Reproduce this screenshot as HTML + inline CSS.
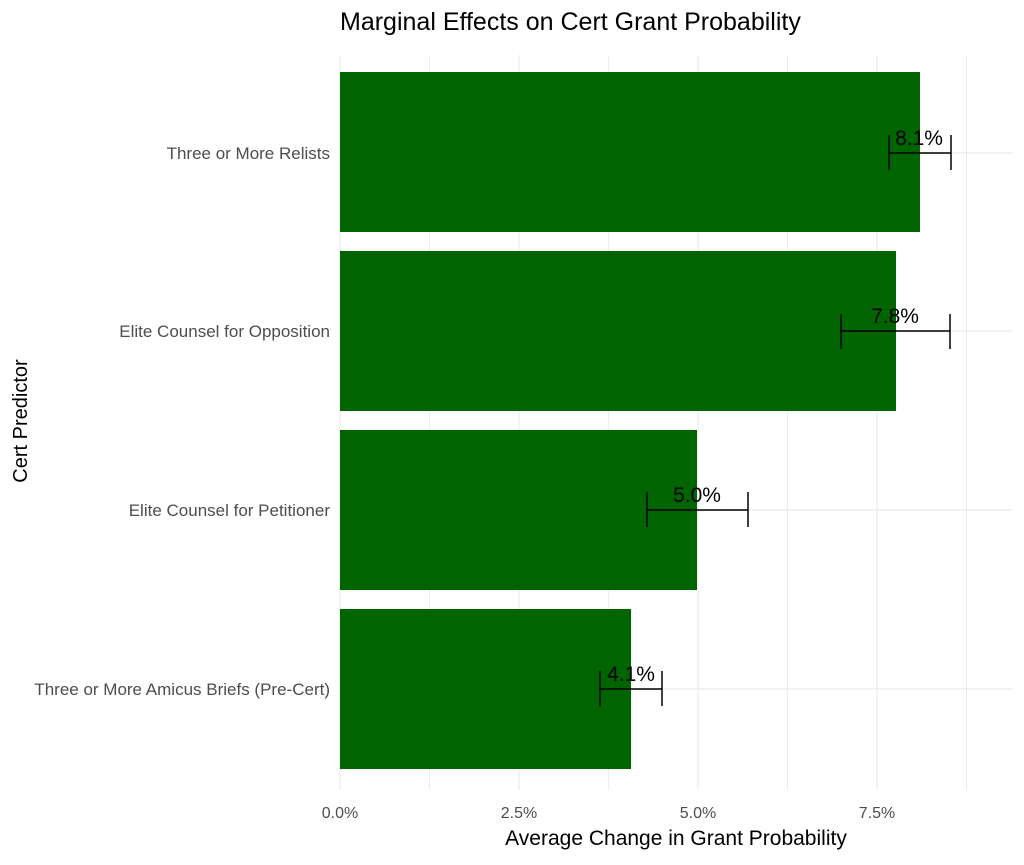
<!DOCTYPE html>
<html><head><meta charset="utf-8"><style>body{margin:0;background:#fff}</style></head><body>
<svg width="1024" height="860" xmlns="http://www.w3.org/2000/svg" font-family="Liberation Sans, sans-serif">
<rect width="1024" height="860" fill="#fff"/>
<g stroke="#ebebeb" stroke-width="1">
<line x1="429.5" y1="55" x2="429.5" y2="790"/><line x1="608.5" y1="55" x2="608.5" y2="790"/><line x1="787.5" y1="55" x2="787.5" y2="790"/><line x1="966.5" y1="55" x2="966.5" y2="790"/>
</g>
<g stroke="#ebebeb" stroke-width="1.2">
<line x1="340" y1="55" x2="340" y2="790"/><line x1="519" y1="55" x2="519" y2="790"/><line x1="698" y1="55" x2="698" y2="790"/><line x1="877" y1="55" x2="877" y2="790"/>
<line x1="340" y1="153" x2="1012" y2="153"/><line x1="340" y1="331" x2="1012" y2="331"/><line x1="340" y1="510" x2="1012" y2="510"/><line x1="340" y1="689" x2="1012" y2="689"/>
</g>
<g fill="#006400">
<rect x="340" y="72" width="580" height="160"/>
<rect x="340" y="251" width="556" height="160"/>
<rect x="340" y="430" width="357" height="160"/>
<rect x="340" y="609" width="291" height="160"/>
</g>
<g stroke="#000" stroke-width="1.5" fill="none">
<path d="M889 153H951M889 135V170M951 135V170"/>
<path d="M841 331H950M841 314V349M950 314V349"/>
<path d="M647 510H748M647 492V527M748 492V527"/>
<path d="M600 689H662M600 671V706M662 671V706"/>
</g>
<g font-size="21" text-anchor="middle" fill="#000">
<text x="919" y="145">8.1%</text>
<text x="895" y="323">7.8%</text>
<text x="697" y="502">5.0%</text>
<text x="631" y="681">4.1%</text>
</g>
<g font-size="17" text-anchor="end" fill="#4d4d4d">
<text x="330" y="159">Three or More Relists</text>
<text x="330" y="337">Elite Counsel for Opposition</text>
<text x="330" y="516">Elite Counsel for Petitioner</text>
<text x="330" y="695">Three or More Amicus Briefs (Pre-Cert)</text>
</g>
<g font-size="16" text-anchor="middle" fill="#4d4d4d">
<text x="340" y="818">0.0%</text><text x="519" y="818">2.5%</text><text x="698" y="818">5.0%</text><text x="877" y="818">7.5%</text>
</g>
<text x="676" y="845" font-size="21" text-anchor="middle" fill="#000">Average Change in Grant Probability</text>
<text transform="translate(27,421) rotate(-90)" font-size="20" text-anchor="middle" fill="#000">Cert Predictor</text>
<text x="340" y="30" font-size="25" fill="#000">Marginal Effects on Cert Grant Probability</text>
</svg>
</body></html>
